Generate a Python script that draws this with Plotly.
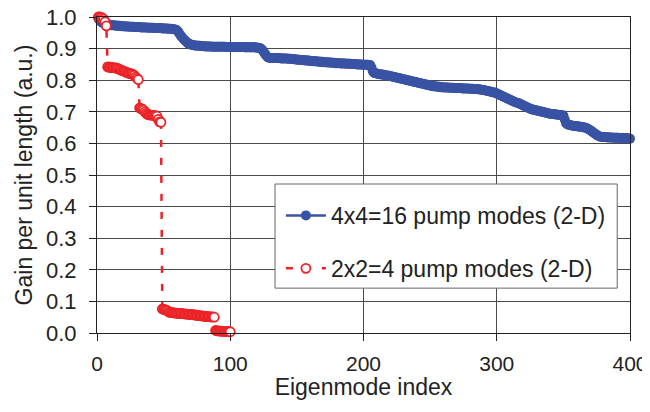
import plotly.graph_objects as go

# ---- data ----
blue_name = "4x4=16 pump modes (2-D)"
red_name = "2x2=4 pump modes (2-D)"

blue_x = list(range(1, 401))
blue_y = [
    0.995, 0.990, 0.985, 0.982, 0.980, 0.979, 0.978, 0.977, 0.976, 0.975, 0.974, 0.974, 0.973, 0.973, 0.972, 0.972, 0.972, 0.971, 0.971, 0.971,
    0.970, 0.970, 0.970, 0.969, 0.969, 0.969, 0.969, 0.968, 0.968, 0.968, 0.968, 0.968, 0.967, 0.967, 0.967, 0.967, 0.967, 0.966, 0.966, 0.966,
    0.966, 0.966, 0.965, 0.965, 0.965, 0.965, 0.965, 0.965, 0.964, 0.964, 0.964, 0.964, 0.963, 0.963, 0.963, 0.962, 0.962, 0.961, 0.960, 0.958,
    0.953, 0.946, 0.940, 0.935, 0.930, 0.926, 0.922, 0.918, 0.915, 0.913, 0.912, 0.911, 0.910, 0.910, 0.909, 0.909, 0.909, 0.908, 0.908, 0.908,
    0.907, 0.907, 0.907, 0.907, 0.907, 0.906, 0.906, 0.906, 0.906, 0.906, 0.906, 0.906, 0.906, 0.906, 0.906, 0.906, 0.905, 0.905, 0.905, 0.905,
    0.905, 0.905, 0.905, 0.905, 0.905, 0.905, 0.905, 0.905, 0.905, 0.905, 0.904, 0.904, 0.904, 0.904, 0.904, 0.904, 0.904, 0.904, 0.904, 0.903,
    0.903, 0.902, 0.900, 0.896, 0.890, 0.884, 0.878, 0.873, 0.871, 0.870, 0.870, 0.870, 0.870, 0.870, 0.870, 0.870, 0.870, 0.869, 0.869, 0.869,
    0.869, 0.869, 0.868, 0.868, 0.868, 0.867, 0.867, 0.866, 0.866, 0.865, 0.865, 0.865, 0.864, 0.864, 0.863, 0.863, 0.862, 0.862, 0.862, 0.861,
    0.861, 0.860, 0.860, 0.860, 0.859, 0.859, 0.858, 0.858, 0.858, 0.857, 0.857, 0.857, 0.856, 0.856, 0.856, 0.855, 0.855, 0.855, 0.854, 0.854,
    0.854, 0.854, 0.853, 0.853, 0.853, 0.853, 0.852, 0.852, 0.852, 0.852, 0.851, 0.851, 0.851, 0.851, 0.850, 0.850, 0.850, 0.850, 0.849, 0.849,
    0.849, 0.849, 0.849, 0.848, 0.848, 0.840, 0.828, 0.823, 0.822, 0.821, 0.820, 0.819, 0.818, 0.818, 0.817, 0.816, 0.815, 0.815, 0.814, 0.813,
    0.812, 0.811, 0.810, 0.809, 0.808, 0.807, 0.806, 0.805, 0.804, 0.803, 0.802, 0.801, 0.800, 0.799, 0.798, 0.797, 0.796, 0.795, 0.794, 0.793,
    0.792, 0.791, 0.790, 0.789, 0.788, 0.787, 0.786, 0.785, 0.784, 0.783, 0.782, 0.781, 0.781, 0.780, 0.780, 0.779, 0.779, 0.778, 0.778, 0.777,
    0.777, 0.777, 0.777, 0.776, 0.776, 0.776, 0.776, 0.775, 0.775, 0.775, 0.775, 0.775, 0.775, 0.774, 0.774, 0.774, 0.774, 0.774, 0.773, 0.773,
    0.773, 0.773, 0.772, 0.772, 0.772, 0.771, 0.771, 0.770, 0.770, 0.769, 0.768, 0.767, 0.766, 0.765, 0.764, 0.763, 0.762, 0.761, 0.760, 0.758,
    0.756, 0.754, 0.752, 0.750, 0.748, 0.746, 0.744, 0.742, 0.740, 0.738, 0.736, 0.734, 0.732, 0.730, 0.729, 0.728, 0.726, 0.724, 0.722, 0.720,
    0.718, 0.716, 0.714, 0.712, 0.710, 0.708, 0.707, 0.706, 0.705, 0.704, 0.703, 0.702, 0.701, 0.700, 0.699, 0.698, 0.697, 0.696, 0.695, 0.694,
    0.693, 0.693, 0.692, 0.692, 0.691, 0.691, 0.690, 0.690, 0.689, 0.688, 0.676, 0.664, 0.660, 0.659, 0.658, 0.657, 0.656, 0.655, 0.655, 0.654,
    0.654, 0.653, 0.653, 0.652, 0.651, 0.650, 0.649, 0.647, 0.645, 0.642, 0.639, 0.636, 0.633, 0.630, 0.627, 0.624, 0.622, 0.621, 0.620, 0.620,
    0.620, 0.620, 0.619, 0.619, 0.619, 0.619, 0.618, 0.618, 0.618, 0.618, 0.618, 0.617, 0.617, 0.617, 0.617, 0.617, 0.616, 0.616, 0.616, 0.615,
]

red_x = list(range(1, 101))
red_y = [
    1.000, 1.000, 0.999, 0.997, 0.993, 0.985, 0.972,
    0.842, 0.841, 0.841, 0.840, 0.840, 0.839, 0.839, 0.838,
    0.836, 0.834, 0.832, 0.830, 0.829, 0.827, 0.825, 0.823, 0.822, 0.821, 0.820, 0.818,
    0.815, 0.810, 0.806, 0.802,
    0.712, 0.710, 0.708, 0.705, 0.700, 0.695, 0.692, 0.690, 0.690, 0.689, 0.689, 0.688, 0.688, 0.686, 0.676, 0.668, 0.667,
    0.076, 0.075, 0.074, 0.072, 0.070,
    0.066, 0.065, 0.065, 0.064, 0.064, 0.063, 0.063, 0.062, 0.062, 0.062, 0.061, 0.061, 0.060, 0.060, 0.060, 0.059, 0.059, 0.058, 0.058, 0.057, 0.057,
    0.056, 0.055, 0.055, 0.054, 0.054, 0.053, 0.053, 0.052, 0.052, 0.052, 0.051, 0.051, 0.051, 0.050,
    0.008, 0.007, 0.007, 0.006, 0.006, 0.006, 0.005, 0.005, 0.005, 0.005, 0.004, 0.004,
]

x_ticks = [0, 100, 200, 300, 400]
y_ticks = [0.0, 0.1, 0.2, 0.3, 0.4, 0.5, 0.6, 0.7, 0.8, 0.9, 1.0]

BLUE = "#3953A4"
RED = "#EC2227"
FONT = "Liberation Sans, Arial, sans-serif"

fig = go.Figure()
fig.add_trace(go.Scatter(
    x=blue_x, y=blue_y, name=blue_name, mode="lines+markers",
    line=dict(color=BLUE, width=2.5),
    marker=dict(symbol="circle", size=10, color=BLUE),
    cliponaxis=False, legendgroup="b",
))
fig.add_trace(go.Scatter(
    x=red_x, y=red_y, name=red_name, mode="lines+markers",
    line=dict(color=RED, width=2.5, dash="7px,11px"),
    marker=dict(symbol="circle", size=9, color="white", line=dict(color=RED, width=1.8)),
    cliponaxis=False, legendgroup="r",
))

# legend frame
fig.add_shape(type="rect", xref="paper", yref="paper",
              x0=0.334, x1=0.976, y0=0.142, y1=0.4715,
              fillcolor="white", line=dict(color="#666666", width=1), layer="above")

axis_common = dict(
    showgrid=True, gridcolor="#4a4a4a", gridwidth=1,
    showline=True, linecolor="#222222", linewidth=1.2, mirror=True,
    ticks="outside", ticklen=7, tickcolor="#222222", tickwidth=1,
    zeroline=False, automargin=False, ticklabeloverflow="allow",
)

# the page body adds an 8 px offset, so the figure is drawn smaller than the window
fig.update_layout(
    width=642, height=392,
    margin=dict(l=89, r=20, t=9, b=67),
    paper_bgcolor="white", plot_bgcolor="white",
    font=dict(family=FONT, color="#222222"),
    xaxis=dict(range=[0, 400], tickvals=x_ticks, ticktext=[str(v) for v in x_ticks],
               tickfont=dict(family=FONT, size=21, color="#222222"),
               title=dict(text="Eigenmode index", font=dict(family=FONT, size=23), standoff=2),
               ticklabelstandoff=5, **axis_common),
    yaxis=dict(range=[0, 1.0], tickvals=y_ticks, ticktext=[f"{v:.1f}" for v in y_ticks],
               tickfont=dict(family=FONT, size=22, color="#222222"),
               title=dict(text="Gain per unit length (a.u.)", font=dict(family=FONT, size=23), standoff=6),
               ticklabelstandoff=8, **axis_common),
    showlegend=True,
    legend=dict(x=0.345, y=0.44, xanchor="left", yanchor="top",
                bgcolor="rgba(0,0,0,0)", borderwidth=0,
                font=dict(family=FONT, size=23, color="#222222"),
                tracegroupgap=20, itemwidth=40),
)

fig.write_html("out.html")
